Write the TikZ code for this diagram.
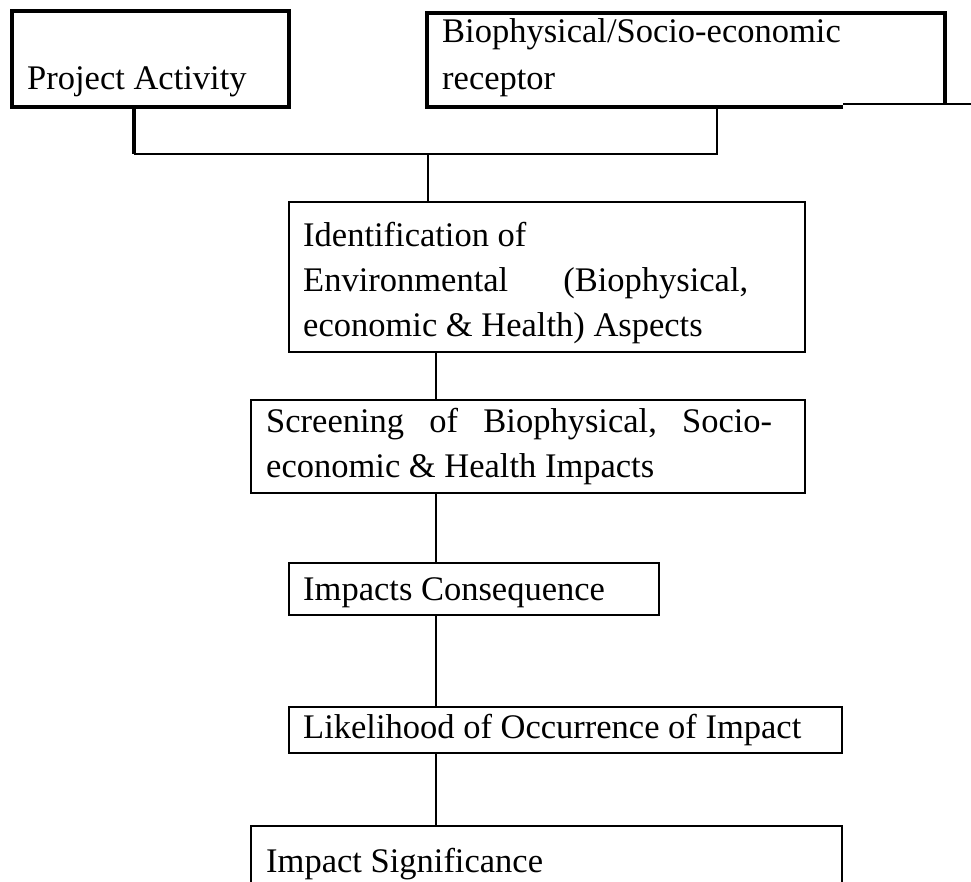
\documentclass[tikz,border=0pt]{standalone}
\usepackage{fontspec}
\setmainfont{Liberation Serif}
\usetikzlibrary{calc}
\begin{document}
\begin{tikzpicture}[x=1pt,y=-1pt,
  box/.style={draw, line width=2pt, inner sep=0pt, outer sep=0pt, anchor=north west},
  bigbox/.style={box, line width=3.3pt},
  frame/.style={inner sep=0pt, outer sep=0pt, anchor=north west},
  txt/.style={inner sep=0pt, anchor=base west, font=\fontsize{34.5}{45}\selectfont},
  link/.style={line width=2pt},
  boldlink/.style={line width=3.3pt}]
\useasboundingbox (0,0) rectangle (971,882);
\fill[white] (0,0) rectangle (971,882);

% boxes
\node[bigbox, minimum width=277pt, minimum height=96pt] (pa) at (12,11) {};
\node[frame, minimum width=518pt, minimum height=94pt] (bio) at (427,13) {};
\draw[boldlink] (bio.south west) ++(416,0) -- (bio.south west) -- (bio.north west) -- (bio.north east) -- ++(0,91);
\draw[link] (bio.south west) ++(416,-3) -- ++(140,0);
\node[box, minimum width=516pt, minimum height=150pt] (ident) at (289,202) {};
\node[box, minimum width=554pt, minimum height=93pt] (scr) at (251,400) {};
\node[box, minimum width=370pt, minimum height=52pt] (cons) at (289,563) {};
\node[box, minimum width=553pt, minimum height=46pt] (lik) at (289,707) {};
\node[box, minimum width=591pt, minimum height=100pt] (sig) at (251,826) {};

% texts
\node[txt] (paT) at (27,90) {Project Activity};
\node[txt] (bioT) at (442,43) {\parbox[t]{500pt}{\fontsize{34.5}{47}\selectfont\raggedright Biophysical/Socio-economic\\receptor}};
\node[txt] (identT) at (303,247) {\parbox[t]{445pt}{\fontsize{34.5}{45}\selectfont\raggedright Identification of\\\leavevmode\hbox to 445pt{Environmental\hfill(Biophysical,}\\economic \& Health) Aspects}};
\node[txt] (scrT) at (266,432) {\parbox[t]{506pt}{\fontsize{34.5}{45}\selectfont\raggedright\leavevmode\hbox to 506pt{Screening\hfil of\hfil Biophysical,\hfil Socio-}\\economic \& Health Impacts}};
\node[txt] (consT) at (303,600) {Impacts Consequence};
\node[txt] (likT) at (303,738) {Likelihood of Occurrence of Impact};
\node[txt] (sigT) at (266,872) {Impact Significance};

% connectors
\coordinate (j) at (428,154);
\coordinate (axis) at (436,0);
\coordinate (pa1) at ($(pa.south west)+(122,0)$);
\coordinate (bio1) at ($(bio.south west)+(290,0)$);
\draw[boldlink] (pa1) -- (pa1 |- j);
\draw[link] (pa1 |- j) -- (bio1 |- j) -- (bio1);
\draw[link] (j) -- (j |- ident.north);
\draw[link] (ident.south -| axis) -- (scr.north -| axis);
\draw[link] (scr.south -| axis) -- (cons.north -| axis);
\draw[link] (cons.south -| axis) -- (lik.north -| axis);
\draw[link] (lik.south -| axis) -- (sig.north -| axis);
\end{tikzpicture}
\end{document}
